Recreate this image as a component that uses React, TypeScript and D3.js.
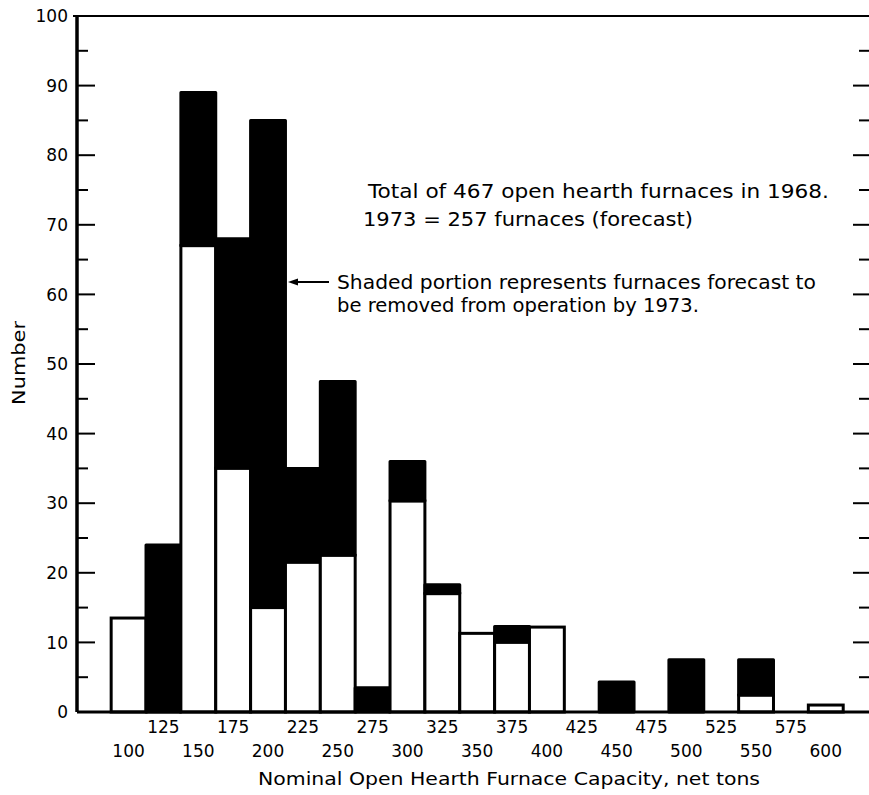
import React from "react";
import * as d3 from "d3";

// Capacity bins (net tons), bar centres
const capacities = [100, 125, 150, 175, 200, 225, 250, 275, 300, 325, 350, 375, 400, 425, 450, 475, 500, 525, 550, 575, 600];
// Total furnaces in 1968 per bin
const total1968 = [13.5, 24, 89, 68, 85, 35, 47.5, 3.5, 36, 18.3, 11.3, 12.3, 12.2, 0, 4.3, 0, 7.5, 0, 7.5, 0, 1];
// Furnaces remaining in 1973 (white portion)
const remain1973 = [13.5, 0, 67, 35, 15, 21.5, 22.5, 0, 30.3, 17, 11.3, 10, 12.2, 0, 0, 0, 0, 0, 2.4, 0, 1];
const yTicks = [0, 10, 20, 30, 40, 50, 60, 70, 80, 90, 100];
const yMinorTicks = [5, 15, 25, 35, 45, 55, 65, 75, 85, 95];
const xLabelsUpper = [125, 175, 225, 275, 325, 375, 425, 475, 525, 575];
const xLabelsLower = [100, 150, 200, 250, 300, 350, 400, 450, 500, 550, 600];

const FONT = "'DejaVu Sans', sans-serif";

export default function App() {
  const W = 869, H = 795;
  const x = d3.scaleLinear().domain([63, 631]).range([77, 869]);
  const y = d3.scaleLinear().domain([0, 100]).range([712, 16]);
  const half = 12.5;

  return (
    <svg width={W} height={H} style={{ position: "absolute", left: 0, top: 0, background: "#fff" }}>
      <rect x={0} y={0} width={W} height={H} fill="#fff" />
      {/* bars */}
      {capacities.map((c, i) => {
        const t = total1968[i];
        const w = remain1973[i];
        if (t <= 0) return null;
        const x0 = x(c - half);
        const x1 = x(c + half);
        return (
          <g key={c}>
            {t > w && (
              <rect x={x0} y={y(t)} width={x1 - x0} height={y(w) - y(t)} fill="#000" stroke="#000" strokeWidth={3} strokeLinejoin="round" />
            )}
            {w > 0 && (
              <rect x={x0} y={y(w)} width={x1 - x0} height={y(0) - y(w)} fill="#fff" stroke="#000" strokeWidth={3} />
            )}
          </g>
        );
      })}
      {/* axes */}
      <line x1={x(63)} x2={x(63)} y1={y(100)} y2={y(0)} stroke="#000" strokeWidth={3.5} />
      <line x1={73} x2={869} y1={y(100)} y2={y(100)} stroke="#000" strokeWidth={2} />
      <line x1={x(63)} x2={869} y1={y(0)} y2={y(0)} stroke="#000" strokeWidth={3} />
      {yTicks.filter((v) => v > 0 && v < 100).map((v) => (
        <g key={"t" + v}>
          <line x1={77} x2={95} y1={y(v)} y2={y(v)} stroke="#000" strokeWidth={2} />
          <line x1={853} x2={869} y1={y(v)} y2={y(v)} stroke="#000" strokeWidth={2} />
        </g>
      ))}
      {yMinorTicks.map((v) => (
        <g key={"m" + v}>
          <line x1={77} x2={88} y1={y(v)} y2={y(v)} stroke="#000" strokeWidth={2} />
          <line x1={859} x2={869} y1={y(v)} y2={y(v)} stroke="#000" strokeWidth={2} />
        </g>
      ))}
      {yTicks.map((v) => (
        <text key={"yl" + v} x={68} y={y(v)} dy="0.36em" textAnchor="end" fontFamily={FONT} fontSize={17} fill="#000">
          {v}
        </text>
      ))}
      {xLabelsUpper.map((v) => (
        <text key={"xu" + v} x={x(v)} y={727} dy="0.36em" textAnchor="middle" fontFamily={FONT} fontSize={17} fill="#000">
          {v}
        </text>
      ))}
      {xLabelsLower.map((v) => (
        <text key={"xl" + v} x={x(v)} y={751} dy="0.36em" textAnchor="middle" fontFamily={FONT} fontSize={17} fill="#000">
          {v}
        </text>
      ))}
      <text x={509} y={779} dy="0.36em" textAnchor="middle" fontFamily={FONT} fontSize={17} fill="#000" textLength={502} lengthAdjust="spacingAndGlyphs">
        Nominal Open Hearth Furnace Capacity, net tons
      </text>
      <text transform="translate(19,363) rotate(-90)" dy="0.36em" textAnchor="middle" fontFamily={FONT} fontSize={18} fill="#000" textLength={84} lengthAdjust="spacingAndGlyphs">
        Number
      </text>
      {/* annotations */}
      <text x={368} y={191} dy="0.36em" fontFamily={FONT} fontSize={19} fill="#000" textLength={461} lengthAdjust="spacingAndGlyphs">
        Total of 467 open hearth furnaces in 1968.
      </text>
      <text x={363} y={219} dy="0.36em" fontFamily={FONT} fontSize={19} fill="#000" textLength={330} lengthAdjust="spacingAndGlyphs">
        1973 = 257 furnaces (forecast)
      </text>
      <text x={337} y={282} dy="0.36em" fontFamily={FONT} fontSize={19} fill="#000" textLength={479} lengthAdjust="spacingAndGlyphs">
        Shaded portion represents furnaces forecast to
      </text>
      <text x={337} y={305} dy="0.36em" fontFamily={FONT} fontSize={19} fill="#000" textLength={362} lengthAdjust="spacingAndGlyphs">
        be removed from operation by 1973.
      </text>
      <line x1={292} x2={329} y1={282} y2={282} stroke="#000" strokeWidth={1.8} />
      <path d="M288,282 L298,278.5 L298,285.5 Z" fill="#000" />
    </svg>
  );
}
